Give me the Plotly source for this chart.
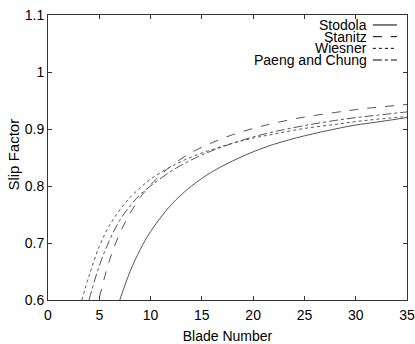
import plotly.graph_objects as go

# Blade numbers at which curves were read
blades_stodola = [7, 8, 9, 10, 12, 14, 16, 18, 20, 22, 25, 28, 30, 32, 35]
stodola = [0.600, 0.650, 0.689, 0.720, 0.767, 0.800, 0.825, 0.844, 0.860, 0.873, 0.888, 0.900, 0.907, 0.912, 0.920]

blades_stanitz = [5, 6, 7, 8, 9, 10, 12, 14, 16, 18, 20, 22, 25, 28, 30, 32, 35]
stanitz = [0.604, 0.670, 0.717, 0.752, 0.780, 0.802, 0.835, 0.859, 0.876, 0.890, 0.901, 0.910, 0.921, 0.929, 0.934, 0.938, 0.943]

blades_wiesner = [3.3, 4, 5, 6, 7, 8, 9, 10, 12, 14, 16, 18, 20, 22, 25, 28, 30, 32, 35]
wiesner = [0.600, 0.642, 0.694, 0.731, 0.758, 0.780, 0.797, 0.812, 0.834, 0.851, 0.864, 0.875, 0.884, 0.891, 0.901, 0.908, 0.913, 0.917, 0.922]

blades_paeng = [4, 5, 6, 7, 8, 9, 10, 12, 14, 16, 18, 20, 22, 25, 28, 30, 32, 35]
paeng = [0.600, 0.660, 0.705, 0.740, 0.765, 0.785, 0.800, 0.826, 0.846, 0.862, 0.875, 0.886, 0.895, 0.906, 0.915, 0.920, 0.924, 0.930]

series_names = ["Stodola", "Stanitz", "Wiesner", "Paeng and Chung"]
series_dash = ["solid", "dash", "dot", "dashdot"]

x_ticks = [0, 5, 10, 15, 20, 25, 30, 35]
y_ticks = [0.6, 0.7, 0.8, 0.9, 1.0, 1.1]
y_tick_text = ["0.6", "0.7", "0.8", "0.9", "1", "1.1"]

line_color = "#555555"
font_family = "Liberation Sans, Arial, sans-serif"

fig = go.Figure()
xs = [blades_stodola, blades_stanitz, blades_wiesner, blades_paeng]
ys = [stodola, stanitz, wiesner, paeng]
for name, dash, x, y in zip(series_names, series_dash, xs, ys):
    fig.add_trace(go.Scatter(x=x, y=y, mode="lines", name=name,
                             line=dict(color=line_color, width=1, dash=dash, shape="spline"),
                             showlegend=False))

# manual legend (text right-aligned, line sample on the right, as in the reference)
leg_y = [0.965, 0.924, 0.883, 0.842]
for name, dash, yy in zip(series_names, series_dash, leg_y):
    fig.add_annotation(xref="paper", yref="paper", x=0.893, y=yy, text=name,
                       showarrow=False, xanchor="right", yanchor="middle",
                       font=dict(family=font_family, size=14, color="black"))
    fig.add_shape(type="line", xref="paper", yref="paper", x0=0.905, x1=0.972, y0=yy, y1=yy,
                  line=dict(color="black", width=1, dash=dash))

fig.add_annotation(xref="paper", yref="paper", x=-0.095, y=0.51, text="Slip Factor",
                   textangle=-90, showarrow=False, xanchor="center", yanchor="middle",
                   font=dict(family=font_family, size=15, color="black"))

axis_common = dict(showgrid=False, zeroline=False, showline=True, linecolor="#333333",
                   linewidth=1, mirror="ticks", ticks="inside", ticklen=4, tickcolor="#333333",
                   automargin=False,
                   tickfont=dict(family=font_family, size=14, color="black"))

fig.update_xaxes(range=[0, 35], tickvals=x_ticks, ticklabelstandoff=2,
                 title=dict(text="Blade Number", standoff=10,
                            font=dict(family=font_family, size=14, color="black")), **axis_common)
fig.update_yaxes(range=[0.6, 1.1], tickvals=y_ticks, ticktext=y_tick_text, **axis_common)

fig.update_layout(width=415, height=344, margin=dict(l=48, r=8, t=15, b=44),
                  plot_bgcolor="white", paper_bgcolor="white",
                  font=dict(family=font_family, size=14, color="black"))

fig.write_html("out.html", config={"displayModeBar": False},
               post_script="document.body.style.margin='0';document.body.style.overflow='hidden';")
